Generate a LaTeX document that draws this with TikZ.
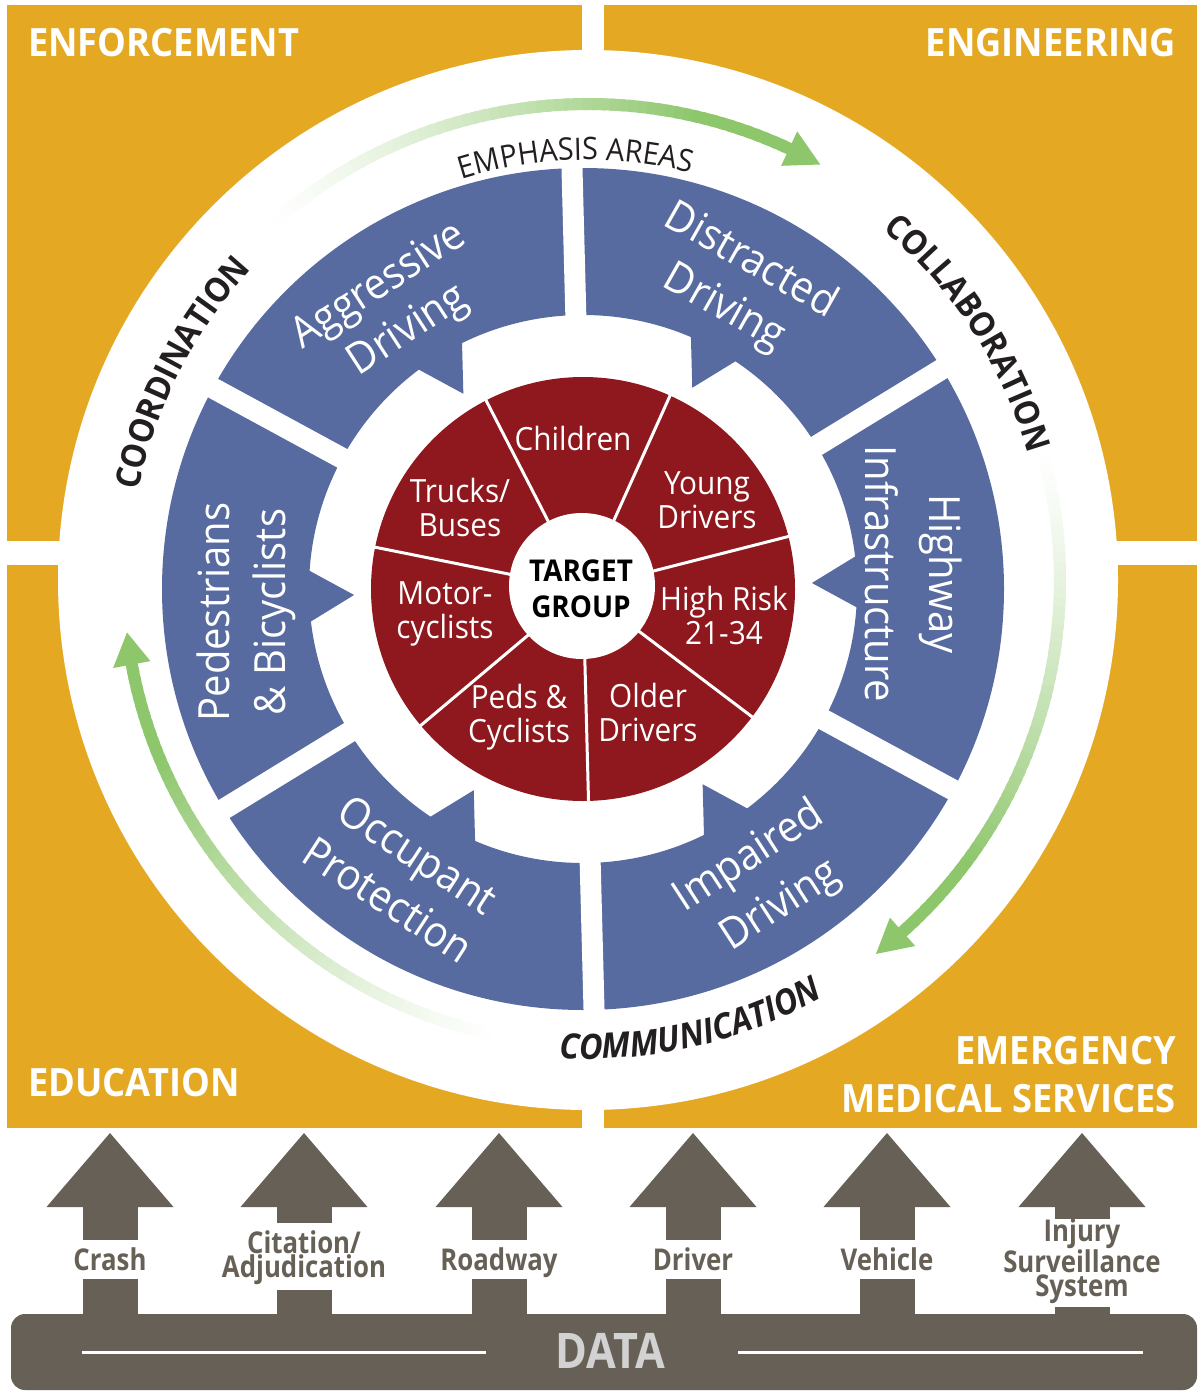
\documentclass[tikz,border=0pt]{standalone}
\usepackage{fontspec}
\setmainfont{Open Sans}[FakeStretch=0.93]
\newfontfamily\datafont{Open Sans}[FakeStretch=0.86]
\newfontfamily\bigfont{Open Sans}[FakeStretch=0.88]
\usetikzlibrary{decorations.text}
\definecolor{orng}{HTML}{E5A823}
\definecolor{blu}{HTML}{576BA0}
\definecolor{redd}{HTML}{8E181D}
\definecolor{grn}{HTML}{8DC66B}
\definecolor{gry}{HTML}{676056}
\definecolor{dark}{HTML}{231F20}
\definecolor{lgry}{HTML}{D2D2D2}
\newcommand\arcfont{\fontsize{34}{34}\selectfont\bfseries\color{dark}}
\newcommand\arcfontit{\fontsize{35}{35}\selectfont\bfseries\itshape\color{dark}}
\newcommand\arcfontrg{\fontsize{31}{31}\selectfont\color{dark}}
% green gradient arc: start angle, shaft end angle, radius, tip angle
\newcommand{\grnarc}[4]{%
  \foreach \k in {0,...,59}{%
    \pgfmathsetmacro{\aa}{#1+(#2-#1)*\k/60}%
    \pgfmathsetmacro{\ab}{#1+(#2-#1)*(\k+1.6)/60}%
    \pgfmathtruncatemacro{\pc}{min(100,100*((\k+1)/50)^1.3)}%
    \draw[line width=12, draw=grn!\pc!white] (\aa:#3) arc[start angle=\aa, end angle=\ab, radius=#3];%
  }%
  \pgfmathsetmacro{\ri}{#3-19}\pgfmathsetmacro{\ro}{#3+19}%
  \fill[grn] (#2:\ri) -- (#2:\ro) -- (#4:#3) -- cycle;%
}
\newcommand{\uparr}[3]{%
  \fill[gry] (#1-63.5,-1207) -- (#1,-1133) -- (#1+63.5,-1207) -- cycle;
  \fill[gry] (#1-27.5,-1206) rectangle (#1+27.5,-#2);
  \fill[gry] (#1-27.5,-#3) rectangle (#1+27.5,-1316);}
\tikzset{
  ttl/.style={text=white, font=\fontsize{39}{48}\selectfont\bfseries, inner sep=0},
  redlbl/.style={text=white, font=\fontsize{32}{34}\selectfont, align=center, inner sep=0},
  tgt/.style={text=black, font=\fontsize{30}{36}\selectfont\bfseries, align=center, inner sep=0},
  blulbl/.style={text=white, align=center, inner sep=0},
  datalbl/.style={text=gry, font=\datafont\fontsize{30}{24}\selectfont\bfseries, align=center, inner sep=0},
}
\begin{document}
\begin{tikzpicture}[x=1pt,y=1pt]
\useasboundingbox (0,0) rectangle (1197,-1391);
\fill[white] (0,0) rectangle (1197,-1391);
% orange panels
\fill[orng] (7,-5) rectangle (582,-541);
\fill[orng] (604,-5) rectangle (1197,-541);
\fill[orng] (7,-565) rectangle (582,-1128);
\fill[orng] (604,-565) rectangle (1197,-1128);
% big white circle
\fill[white] (588,-580) circle[radius=530];
% wheel
\begin{scope}[shift={(583,-589)}]
  \fill[blu,even odd rule] (0,0) circle[radius=421] (0,0) circle[radius=274];
  \foreach \a in {1.5,61.5,121.5,181.5,241.5,301.5}
    \fill[blu,rotate=\a] (229,0) -- (284.4,32) -- (284.4,-32) -- cycle;
  \foreach \a in {31.5,91.5,151.5}
    \fill[white,rotate=\a] (-430,-10.5) rectangle (430,10.5);
  \fill[redd] (0,0) circle[radius=212];
  \foreach \a in {117.2,65.77,14.34,-37.09,-88.51,-139.94,-191.37}
    \draw[white,line width=3] (\a:60) -- (\a:215);
  \fill[white] (-1,3) circle[radius=73];
\end{scope}
% titles
\node[ttl,anchor=west] (enf) at (28,-43) {ENFORCEMENT};
\node[ttl,anchor=east] (eng) at (1176,-43) {ENGINEERING};
\node[ttl,anchor=west] (edu) at (28,-1083) {EDUCATION};
\node[ttl,anchor=east,align=right] (ems) at (1176,-1075) {EMERGENCY\\MEDICAL SERVICES};
% red labels
\node[redlbl] (children) at (573,-438) {Children};
\node[redlbl] (young) at (707,-500) {Young\\Drivers};
\node[redlbl] (highrisk) at (724,-615) {High Risk\\21-34};
\node[redlbl] (older) at (648,-712) {Older\\Drivers};
\node[redlbl] (peds) at (519,-717) {Peds \&\\Cyclists};
\node[redlbl] (motor) at (445,-614) {Motor-\\cyclists};
\node[redlbl] (trucks) at (460,-507) {Trucks/\\Buses};
\node[tgt] (target) at (581,-589) {TARGET\\GROUP};
% blue labels
\node[blulbl,rotate=33,font=\fontsize{43}{53}\selectfont] (aggr) at (394,-309) {Aggressive\\Driving};
\node[blulbl,rotate=-29.5,font=\fontsize{43}{54}\selectfont] (distr) at (737,-285) {Distracted\\Driving};
\node[blulbl,rotate=-90,font=\fontsize{43}{64}\selectfont] (hwy) at (914,-574) {Highway\\Infrastructure};
\node[blulbl,rotate=33,font=\fontsize{43}{58}\selectfont] (impr) at (765,-882) {Impaired\\Driving};
\node[blulbl,rotate=-33,font=\fontsize{43}{54}\selectfont] (occ) at (403,-877) {Occupant\\Protection};
\node[blulbl,rotate=90,font=\fontsize{43}{56}\selectfont] (pedb) at (246,-612) {Pedestrians\\\& Bicyclists};
% ring: green arrows and arc texts
\begin{scope}[shift={(588,-580)}]
  \grnarc{132}{65}{476}{60.8}
  \grnarc{16}{-48.2}{472}{-52.4}
  \grnarc{259}{190.5}{464}{186.5}
  \path[decorate,decoration={text along path,text align=center,text={|\arcfont|COORDINATION}}]
    (178:458) arc[start angle=178,end angle=128,radius=458];
  \path[decorate,decoration={text along path,text align=center,text={|\arcfont|COLLABORATION}}]
    (58:458) arc[start angle=58,end angle=8,radius=458];
  \path[decorate,decoration={text along path,text align=center,text={|\arcfontit|COMMUNICATION}}]
    (-102:479) arc[start angle=-102,end angle=-52,radius=479];
  \path[decorate,decoration={text along path,text align=center,text={|\arcfontrg|EMPHASIS AREAS}}]
    (113.7:420) arc[start angle=113.7,end angle=69.7,radius=420];
\end{scope}
% data section
\fill[gry,rounded corners=14] (11,-1314) rectangle (1197,-1390);
\uparr{110}{1240}{1279}
\uparr{304}{1223}{1290}
\uparr{499}{1240}{1279}
\uparr{693}{1240}{1279}
\uparr{887}{1240}{1279}
\uparr{1082}{1219}{1307}
\node[datalbl,anchor=base] (crash) at (110,-1270) {Crash};
\node[datalbl] (citation) at (304,-1258) {Citation/\\Adjudication};
\node[datalbl,anchor=base] (roadway) at (499,-1270) {Roadway};
\node[datalbl,anchor=base] (driver) at (693,-1270) {Driver};
\node[datalbl,anchor=base] (vehicle) at (887,-1270) {Vehicle};
\node[datalbl] (injury) at (1082,-1261) {Injury\\Surveillance\\System};
\node[font=\bigfont\fontsize{49}{49}\selectfont\bfseries,text=lgry,inner sep=0] (data) at (610,-1351) {DATA};
\coordinate (l1a) at (82,-1352); \coordinate (l1b) at (486,-1352);
\coordinate (l2a) at (738,-1352); \coordinate (l2b) at (1143,-1352);
\draw[white,line width=3] (l1a) -- (l1b);
\draw[white,line width=3] (l2a) -- (l2b);
\end{tikzpicture}
\end{document}
